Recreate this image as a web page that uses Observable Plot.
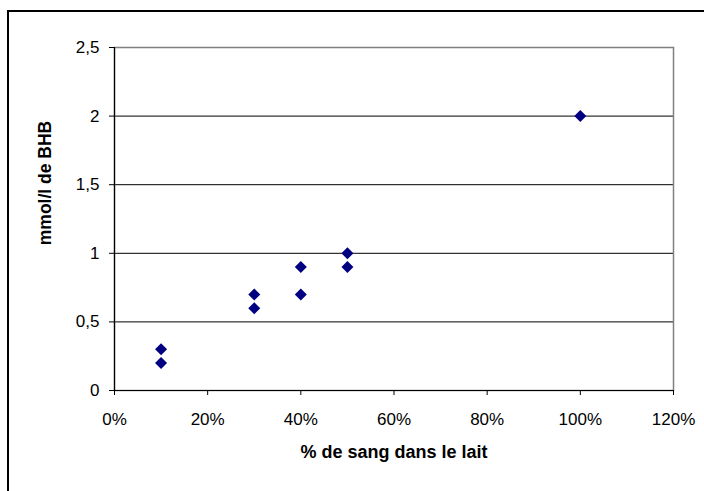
<!DOCTYPE html>
<html>
<head>
<meta charset="utf-8">
<script src="https://cdn.jsdelivr.net/npm/d3@7"></script>
<script src="https://cdn.jsdelivr.net/npm/@observablehq/plot@0.6"></script>
<style>
  html, body { margin: 0; padding: 0; background: #fff; }
  #wrap { position: relative; width: 704px; height: 491px; overflow: hidden; }
  #border { position: absolute; left: 7px; top: 10px; width: 720px; height: 520px; border: 2px solid #000; box-sizing: border-box; }
  #chart { position: absolute; left: 0; top: 0; }
  svg { font-family: Arial, "Liberation Sans", sans-serif; }
</style>
</head>
<body>
<div id="wrap"><div id="border"></div><div id="chart"></div></div>
<script>
// Data
const sangPct = [0.1, 0.1, 0.3, 0.3, 0.4, 0.4, 0.5, 0.5, 1.0];
const bhb     = [0.3, 0.2, 0.7, 0.6, 0.9, 0.7, 1.0, 0.9, 2.0];
const xTicks = [0, 0.2, 0.4, 0.6, 0.8, 1.0, 1.2];
const yTicks = [0, 0.5, 1, 1.5, 2, 2.5];
const xTitle = "% de sang dans le lait";
const yTitle = "mmol/l de BHB";

const data = sangPct.map((x, i) => ({x, y: bhb[i]}));
const fmtY = d => String(d).replace(".", ",");
const fmtX = d => Math.round(d * 100) + "%";

const plot = Plot.plot({
  width: 704,
  height: 491,
  marginLeft: 114,
  marginRight: 31,
  marginTop: 47,
  marginBottom: 101,
  style: {fontFamily: "Arial, 'Liberation Sans', sans-serif", fontSize: "17px", color: "#000", background: "transparent"},
  x: {domain: [0, 1.2], label: null},
  y: {domain: [0, 2.5], label: null},
  marks: [
    Plot.ruleY(yTicks.filter(d => d > 0 && d < 2.5), {stroke: "#000", strokeWidth: 1}),
    Plot.frame({stroke: "#808080", strokeWidth: 1.5}),
    Plot.ruleX([0], {stroke: "#000", strokeWidth: 1.2}),
    Plot.ruleY([0], {stroke: "#000", strokeWidth: 1.2}),
    Plot.axisX({ticks: xTicks, tickFormat: fmtX, tickSize: 5, tickPadding: 17, fontSize: 17, label: null}),
    Plot.axisY({ticks: yTicks, tickFormat: fmtY, tickSize: 5, tickPadding: 10, fontSize: 17, label: null}),
    Plot.dot(data, {x: "x", y: "y", symbol: "diamond2", r: 5.4, fill: "#000080", stroke: "none"}),
    Plot.text([xTitle], {frameAnchor: "bottom", dy: 67, text: d => d, fontWeight: "bold", fontSize: 18, fill: "#000"}),
    Plot.text([yTitle], {frameAnchor: "left", textAnchor: "middle", dx: -69, dy: -36, rotate: -90, text: d => d, fontWeight: "bold", fontSize: 17.5, fill: "#000"})
  ]
});
document.getElementById("chart").appendChild(plot);
</script>
</body>
</html>
